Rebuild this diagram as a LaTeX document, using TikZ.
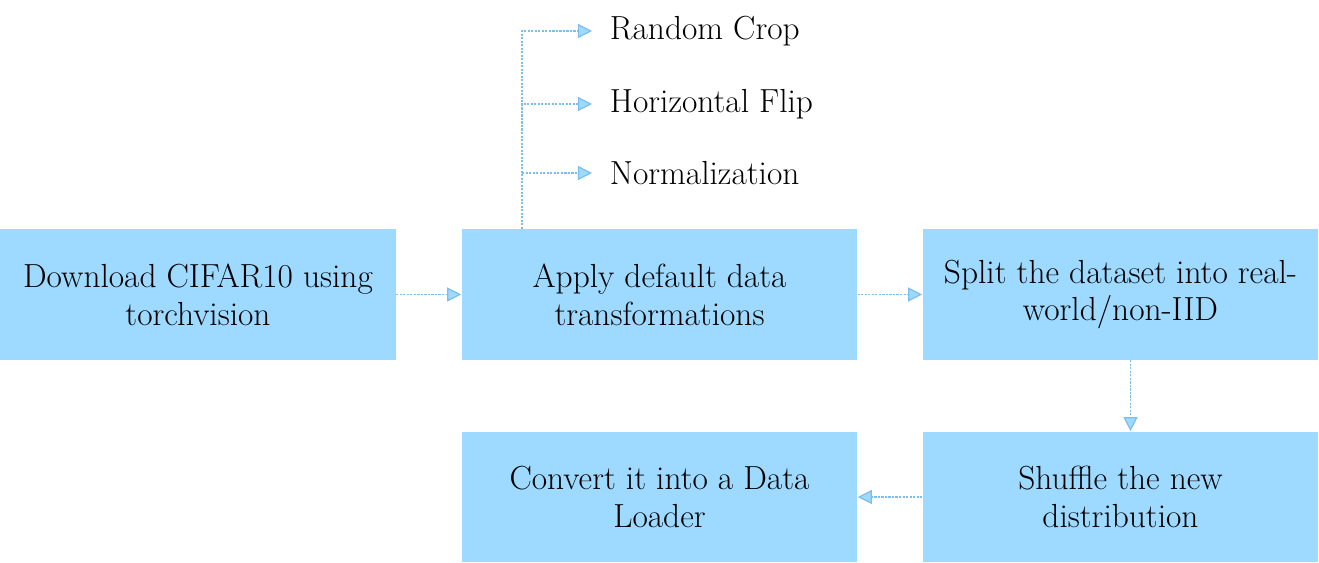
\documentclass[tikz,border=0pt]{standalone}
\usepackage{tikz}
\usetikzlibrary{arrows.meta}

\definecolor{boxblue}{RGB}{158,217,255}
\definecolor{linkblue}{RGB}{125,190,235}

\tikzset{
    stepbox/.style={fill=boxblue, draw=none, minimum width=7.92cm, minimum height=2.62cm,
        align=center, inner sep=0pt, font=\fontsize{19}{21.6}\selectfont},
    optlabel/.style={anchor=west, inner xsep=10pt, font=\fontsize{19}{21.6}\selectfont},
    link/.style={linkblue, line width=0.7pt, dash pattern=on 1.2pt off 0.8pt,
        -{Triangle[length=8pt, width=8pt, fill=boxblue]}},
}

\begin{document}
\begin{tikzpicture}[x=0.02cm, y=-0.02cm]
\useasboundingbox (0,0) rectangle (1319,563);
\node[stepbox] (download) at (198,294.5) {Download CIFAR10 using\\torchvision};
\node[stepbox] (transform) at (659.5,294.5) {Apply default data\\transformations};
\node[stepbox] (split) at (1120.5,294.5) {Split the dataset into real-\\world/non-IID};
\node[stepbox] (shuffle) at (1120.5,497) {Shuffle the new\\distribution};
\node[stepbox] (loader) at (659.5,497) {Convert it into a Data\\Loader};

\node[optlabel] (crop) at (592,31) {Random Crop};
\node[optlabel] (flip) at (592,104) {Horizontal Flip};
\node[optlabel] (norm) at (592,173) {Normalization};
\coordinate (trunk) at (522,229);

\draw[link] (download) -- (transform);
\draw[link] (transform) -- (split);
\draw[link] ([xshift=0.2cm]split.south) -- ([xshift=0.2cm]shuffle.north);
\draw[link] (shuffle) -- (loader);
\foreach \opt in {crop,flip,norm}
    \draw[link] (trunk) |- (\opt.west);
\end{tikzpicture}
\end{document}
